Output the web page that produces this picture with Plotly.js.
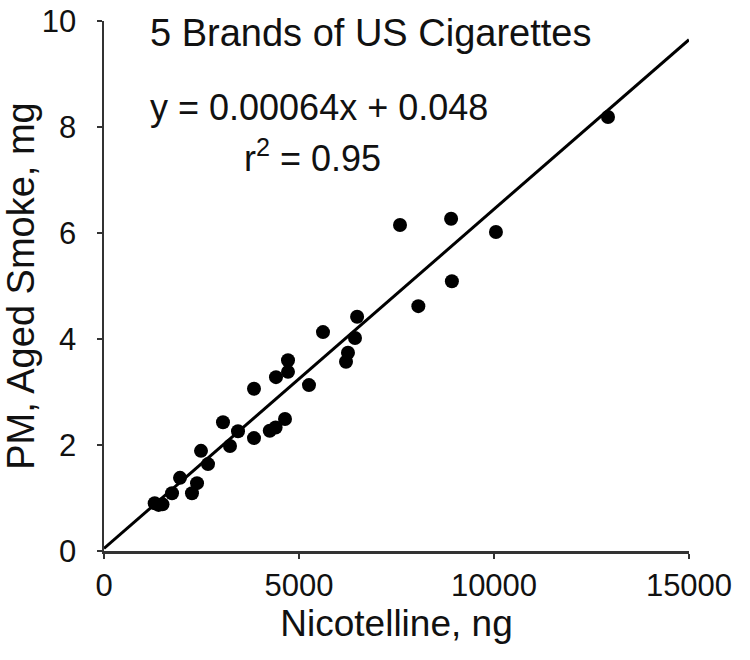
<!DOCTYPE html>
<html>
<head>
<meta charset="utf-8">
<script src="https://cdn.plot.ly/plotly-3.0.1.min.js"></script>
<style>html,body{margin:0;padding:0;background:#fff;}#chart{width:750px;height:660px;}</style>
</head>
<body>
<div id="chart"></div>
<script>
// Data
const nicotelline = [12923, 10050, 8900, 7590, 8920, 8060,
  6490, 5615, 6436, 6256, 6205, 4718, 4718, 4410, 5256, 3846,
  3051, 3436, 4641, 4400, 4250, 3846, 3231, 2487, 2667, 1949,
  2385, 2256, 1744, 1500, 1400, 1300];
const pmAgedSmoke = [8.19, 6.02, 6.27, 6.15, 5.09, 4.62,
  4.42, 4.13, 4.02, 3.74, 3.57, 3.60, 3.38, 3.28, 3.13, 3.06,
  2.43, 2.26, 2.49, 2.33, 2.27, 2.13, 1.98, 1.89, 1.64, 1.38,
  1.28, 1.09, 1.09, 0.88, 0.87, 0.90];
const fitSlope = 0.00064;
const fitIntercept = 0.048;
const fitX = [0, 15000];
const xTicks = [0, 5000, 10000, 15000];
const yTicks = [0, 2, 4, 6, 8, 10];
const titleText = "5 Brands of US Cigarettes";
const eqText = "y = 0.00064x + 0.048";
const r2Text = "r<sup>2</sup> = 0.95";

const FONT = "Liberation Sans, Arial, sans-serif";
const fitY = fitX.map(x => fitSlope * x + fitIntercept);

const traces = [
  {x: fitX, y: fitY, mode: 'lines', line: {color: '#000', width: 3}, hoverinfo: 'skip', cliponaxis: false},
  {x: nicotelline, y: pmAgedSmoke, mode: 'markers', marker: {color: '#000', size: 14}, cliponaxis: false}
];

const axisCommon = {
  showgrid: false, zeroline: false, showline: true, linecolor: '#333', linewidth: 2.5,
  ticks: 'outside', ticklen: 5, tickwidth: 2, tickcolor: '#333',
  tickfont: {family: FONT, size: 31, color: '#111'}, automargin: false
};

const layout = {
  width: 750, height: 660,
  margin: {l: 104, r: 61, t: 21, b: 109},
  paper_bgcolor: '#fff', plot_bgcolor: '#fff',
  showlegend: false,
  xaxis: Object.assign({}, axisCommon, {
    range: [0, 15000], tickvals: xTicks, ticktext: xTicks.map(String),
    title: {text: 'Nicotelline, ng', font: {family: FONT, size: 37, color: '#111'}, standoff: 6}
  }),
  yaxis: Object.assign({}, axisCommon, {
    range: [0, 10], tickvals: yTicks, ticktext: yTicks.map(String), ticklabelstandoff: 14,
    title: {text: 'PM, Aged Smoke, mg', font: {family: FONT, size: 38, color: '#111'}, standoff: 4}
  }),
  annotations: [
    {xref: 'paper', yref: 'paper', x: 0.455, y: 0.978, text: titleText, showarrow: false,
     font: {family: FONT, size: 38, color: '#111'}, xanchor: 'center', yanchor: 'middle'},
    {xref: 'paper', yref: 'paper', x: 0.367, y: 0.837, text: eqText, showarrow: false,
     font: {family: FONT, size: 36, color: '#111'}, xanchor: 'center', yanchor: 'middle'},
    {xref: 'paper', yref: 'paper', x: 0.357, y: 0.745, text: r2Text, showarrow: false,
     font: {family: FONT, size: 36, color: '#111'}, xanchor: 'center', yanchor: 'middle'}
  ]
};

Plotly.newPlot('chart', traces, layout, {displayModeBar: false, staticPlot: true});
</script>
</body>
</html>
